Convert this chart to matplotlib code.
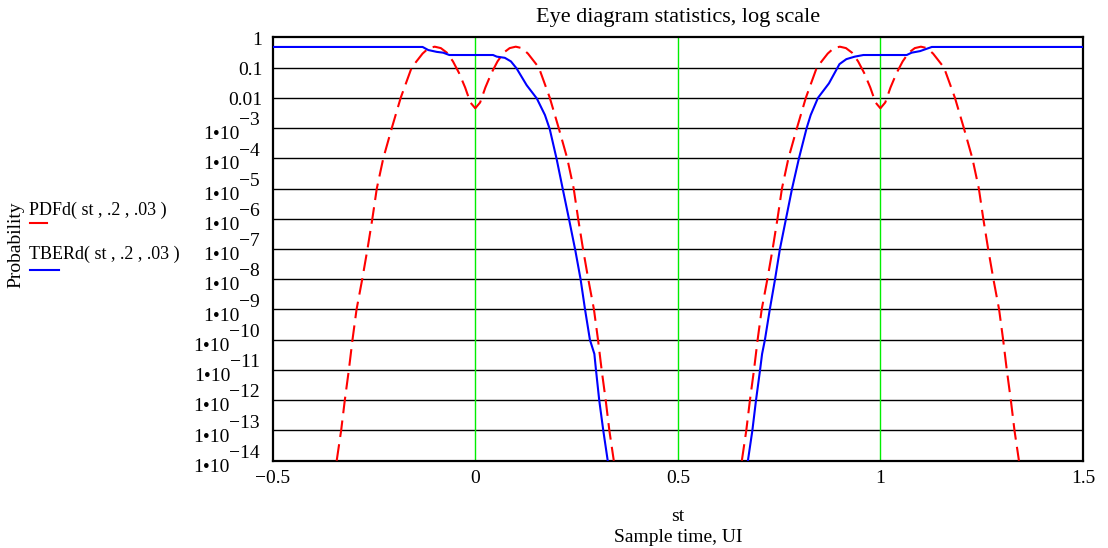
import matplotlib
matplotlib.use("Agg")
import matplotlib.pyplot as plt
from matplotlib.lines import Line2D

# Values (st in UI, probability)
pdf_st = [-0.342, -0.331, -0.322, -0.312, -0.303, -0.293, -0.279, -0.266, -0.254,
          -0.243, -0.227, -0.206, -0.184, -0.157, -0.13, -0.115, -0.1, -0.085, -0.07,
          -0.055, -0.04, -0.025, -0.012, 0.0, 0.012, 0.025, 0.04, 0.055, 0.07, 0.085,
          0.1, 0.115, 0.13, 0.157, 0.184, 0.206, 0.227, 0.243, 0.254, 0.266, 0.279,
          0.293, 0.303, 0.312, 0.322, 0.331, 0.342, None,
          0.658, 0.669, 0.678, 0.688, 0.697, 0.707, 0.721, 0.734, 0.746, 0.757, 0.773,
          0.794, 0.816, 0.843, 0.87, 0.885, 0.9, 0.915, 0.93, 0.945, 0.96, 0.975,
          0.988, 1.0, 1.012, 1.025, 1.04, 1.055, 1.07, 1.085, 1.1, 1.115, 1.13, 1.157,
          1.184, 1.206, 1.227, 1.243, 1.254, 1.266, 1.279, 1.293, 1.303, 1.312, 1.322,
          1.331, 1.342]
pdf_val = [1e-14, 1e-13, 1e-12, 1e-11, 1e-10, 1e-9, 1e-8, 1e-7, 1e-6,
           1e-5, 1e-4, 1e-3, 1e-2, 0.1, 0.29, 0.44, 0.49, 0.44, 0.31,
           0.16, 0.066, 0.022, 0.007, 0.0045, 0.007, 0.022, 0.066, 0.16, 0.31, 0.44,
           0.49, 0.44, 0.29, 0.1, 1e-2, 1e-3, 1e-4, 1e-5, 1e-6, 1e-7, 1e-8,
           1e-9, 1e-10, 1e-11, 1e-12, 1e-13, 1e-14, None,
           1e-14, 1e-13, 1e-12, 1e-11, 1e-10, 1e-9, 1e-8, 1e-7, 1e-6, 1e-5, 1e-4,
           1e-3, 1e-2, 0.1, 0.29, 0.44, 0.49, 0.44, 0.31, 0.16, 0.066, 0.022,
           0.007, 0.0045, 0.007, 0.022, 0.066, 0.16, 0.31, 0.44, 0.49, 0.44, 0.29, 0.1,
           1e-2, 1e-3, 1e-4, 1e-5, 1e-6, 1e-7, 1e-8, 1e-9, 1e-10, 1e-11, 1e-12,
           1e-13, 1e-14]

tber_st = [-0.5, -0.13, -0.116, -0.095, -0.079, -0.064, 0.044, 0.053, 0.073, 0.088,
           0.102, 0.127, 0.152, 0.172, 0.184, 0.201, 0.217, 0.232, 0.247, 0.26,
           0.271, 0.283, 0.294, 0.298, 0.306, 0.316, 0.327, None,
           0.673, 0.684, 0.693, 0.703, 0.708, 0.715, 0.727, 0.74, 0.752, 0.767,
           0.782, 0.799, 0.818, 0.828, 0.846, 0.873, 0.899, 0.916, 0.937, 0.958,
           1.065, 1.077, 1.098, 1.127, 1.5]
tber_val = [0.48, 0.48, 0.38, 0.33, 0.31, 0.26, 0.26, 0.23, 0.21, 0.16,
            0.094, 0.026, 0.0095, 2.7e-3, 9.1e-4, 9.3e-5, 8.3e-6, 8.9e-7, 9e-8, 1e-8,
            1e-9, 1e-10, 3.4e-11, 1e-11, 1e-12, 1e-13, 1e-14, None,
            1e-14, 1e-13, 1e-12, 1e-11, 3.4e-11, 1e-10, 1e-9, 1e-8, 1e-7, 1e-6,
            1e-5, 1e-4, 1e-3, 2.7e-3, 1e-2, 0.03, 0.13, 0.19, 0.23, 0.26,
            0.26, 0.31, 0.35, 0.48, 0.48]

x_ticks = [-0.5, 0, 0.5, 1, 1.5]
x_tick_labels = ["\u22120.5", "0", "0.5", "1", "1.5"]
green_marks = [0, 0.5, 1]
decades = list(range(0, -15, -1))

plt.rcParams["font.family"] = ["Liberation Serif", "DejaVu Serif"]
plt.rcParams["font.size"] = 14

fig = plt.figure(figsize=(11.08, 5.48), dpi=100)
ax = fig.add_axes([0.2461, 0.1593, 0.7313, 0.7726])

# grid
for e in decades[1:-1]:
    ax.axhline(10.0 ** e, color="black", lw=1.0, zorder=1)
for xv in green_marks:
    ax.axvline(xv, color="#00ee00", lw=1.0, zorder=1)

nan = float("nan")
ps = [nan if v is None else v for v in pdf_st]
pv = [nan if v is None else v for v in pdf_val]
ts = [nan if v is None else v for v in tber_st]
tv = [nan if v is None else v for v in tber_val]

ax.plot(ps, pv, color="red", lw=1.5, dashes=(8, 3.5), zorder=3)
ax.plot(ts, tv, color="blue", lw=1.5, zorder=4)

ax.set_yscale("log")
ax.set_xlim(-0.5, 1.5)
ax.set_ylim(1e-14, 1)
ax.set_yticks([])
ax.minorticks_off()
ax.set_xticks(x_ticks)
ax.set_xticklabels(x_tick_labels)
ax.tick_params(axis="x", length=0, pad=7, labelsize=14)
for s in ax.spines.values():
    s.set_linewidth(1.6)

# y tick labels, Mathcad style
ytr = ax.get_yaxis_transform()
plain = {0: "1", -1: "0.1", -2: "0.01"}
for e in decades:
    if e in plain:
        ax.text(-0.013, 10.0 ** (e - 0.1), plain[e], transform=ytr, ha="right", va="center")
    else:
        ex = ax.text(-0.0155, 10.0 ** (e + 0.24), "\u2212%d" % (-e), transform=ytr,
                     ha="right", va="center", clip_on=False)
        ax.annotate("1\u202210", xy=(0, 0.5), xycoords=ex, xytext=(0, -10),
                    textcoords="offset points", ha="right", va="center")

ax.set_title("Eye diagram statistics, log scale", fontsize=16, pad=11)
ax.set_xlabel("st\nSample time, UI", fontsize=14, labelpad=15, linespacing=1.25)

fig.text(0.0145, 0.553, "Probability", rotation=90, ha="center", va="center", fontsize=14)
fig.text(0.026, 1 - 210 / 548, "PDFd( st , .2 , .03 )", ha="left", va="center", fontsize=13)
fig.text(0.026, 1 - 254 / 548, "TBERd( st , .2 , .03 )", ha="left", va="center", fontsize=13)
fig.add_artist(Line2D([30 / 1108, 47 / 1108], [1 - 223 / 548] * 2, color="red", lw=1.5))
fig.add_artist(Line2D([30 / 1108, 59 / 1108], [1 - 270 / 548] * 2, color="blue", lw=1.5))

fig.savefig("out.png", dpi=100)
